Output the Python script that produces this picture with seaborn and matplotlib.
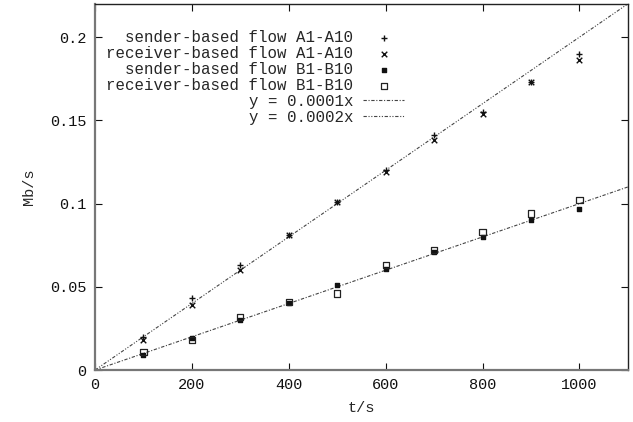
import numpy as np
import pandas as pd
import matplotlib
matplotlib.use("Agg")
import matplotlib.pyplot as plt
import seaborn as sns

# Measured throughput (Mb/s) against time (s)
t = [100, 200, 300, 400, 500, 600, 700, 800, 900, 1000]
sender_a = [0.020, 0.043, 0.063, 0.081, 0.101, 0.120, 0.141, 0.155, 0.173, 0.190]
receiver_a = [0.018, 0.039, 0.060, 0.081, 0.101, 0.119, 0.138, 0.154, 0.173, 0.186]
sender_b = [0.009, 0.019, 0.030, 0.040, 0.051, 0.061, 0.071, 0.080, 0.090, 0.097]
receiver_b = [0.011, 0.018, 0.032, 0.041, 0.046, 0.063, 0.072, 0.083, 0.094, 0.102]

# Reference slopes
slope_low = 0.0001
slope_high = 0.0002
line_x = [0, 1100]

x_ticks = [0, 200, 400, 600, 800, 1000]
y_ticks = [0, 0.05, 0.1, 0.15, 0.2]

sns.set_theme(style="white")
plt.rcParams["font.family"] = ["Liberation Mono", "DejaVu Sans Mono"]
plt.rcParams["font.size"] = 11

fig = plt.figure(figsize=(6.33, 4.22), dpi=100)
ax = fig.add_axes([0.150, 0.123, 0.842, 0.868])

series = [
    ("sender-based flow A1-A10", sender_a, "+", 4, 1.0),
    ("receiver-based flow A1-A10", receiver_a, "x", 4, 1.0),
    ("sender-based flow B1-B10", sender_b, "s", 3.3, 1.0),
    ("receiver-based flow B1-B10", receiver_b, "s", 4.5, 0.9),
]

for label, vals, marker, size, lw in series:
    df = pd.DataFrame({"t": t, "v": vals})
    if label == "receiver-based flow B1-B10":
        sns.scatterplot(data=df, x="t", y="v", ax=ax, marker=marker, s=size**2,
                        facecolor="none", edgecolor="#222222", linewidth=lw,
                        label=label, zorder=3)
    elif marker == "s":
        sns.scatterplot(data=df, x="t", y="v", ax=ax, marker=marker, s=size**2,
                        color="#111111", edgecolor="#111111", linewidth=lw,
                        label=label, zorder=3)
    else:
        sns.scatterplot(data=df, x="t", y="v", ax=ax, marker=marker, s=size**2,
                        color="#111111", linewidth=lw, label=label, zorder=3)

low_df = pd.DataFrame({"t": line_x, "v": [slope_low * x for x in line_x]})
high_df = pd.DataFrame({"t": line_x, "v": [slope_high * x for x in line_x]})
sns.lineplot(data=low_df, x="t", y="v", ax=ax, color="#444444", lw=0.8,
             dashes=False, label="y = 0.0001x", zorder=2)
sns.lineplot(data=high_df, x="t", y="v", ax=ax, color="#444444", lw=0.8,
             dashes=False, label="y = 0.0002x", zorder=2)
ax.lines[0].set_dashes([3, 1.5, 1, 1.5])
ax.lines[1].set_dashes([3, 1.5, 1, 1.5, 1, 1.5])

ax.set_xlim(0, 1100)
ax.set_ylim(0, 0.22)
ax.set_xticks(x_ticks)
ax.set_yticks(y_ticks)
ax.set_xticklabels([str(v) for v in x_ticks])
ax.set_yticklabels(["0", "0.05", "0.1", "0.15", "0.2"])
ax.set_xlabel("t/s", fontsize=11, labelpad=6)
ax.set_ylabel("Mb/s", fontsize=11, labelpad=10)
ax.tick_params(direction="in", length=5, width=0.8, colors="#111111",
               top=True, right=True, bottom=True, left=True, pad=6,
               labelsize=11)
for s in ax.spines.values():
    s.set_visible(True)
    s.set_color("#222222")
    s.set_linewidth(1.0)
ax.spines["left"].set_color("#777777")
ax.spines["left"].set_linewidth(1.6)
ax.spines["bottom"].set_color("#777777")
ax.spines["bottom"].set_linewidth(1.6)

handles, labels = ax.get_legend_handles_labels()
leg = ax.legend(handles, labels, loc="upper left", bbox_to_anchor=(0.009, 0.945),
                markerfirst=False, frameon=False, fontsize=11.3,
                handlelength=2.6, handletextpad=0.65, labelspacing=0.06,
                borderaxespad=0)
ax.grid(False)

fig.savefig("out.png", dpi=100)
